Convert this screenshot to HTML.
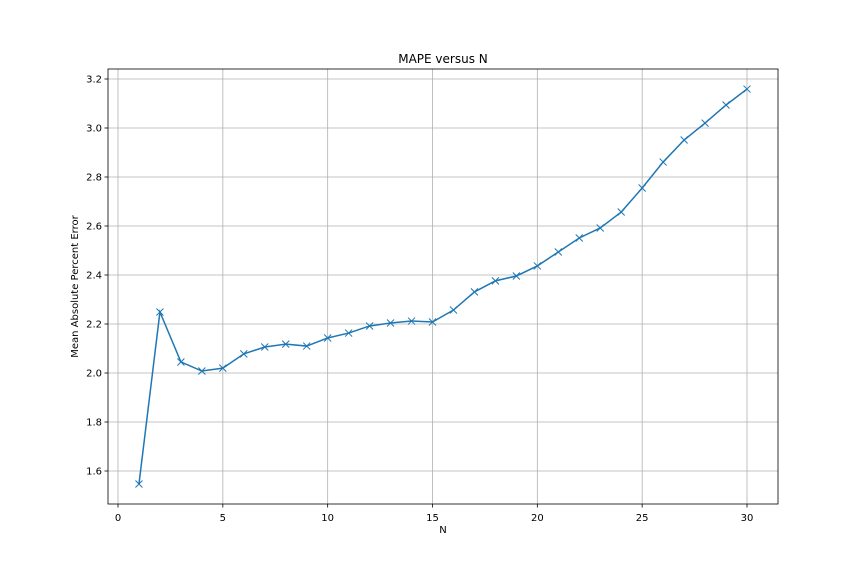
<!DOCTYPE html>
<html><head><meta charset="utf-8"><style>
body{margin:0;background:#fff;font-family:"Liberation Sans","DejaVu Sans",sans-serif;}
svg text{font-family:"DejaVu Sans","Liberation Sans",sans-serif;}
</style></head><body>
<svg id="chart" width="864" height="576">
<rect x="0" y="0" width="864" height="576" fill="#fff"/>
</svg>
<script>
const nValues=[1,2,3,4,5,6,7,8,9,10,11,12,13,14,15,16,17,18,19,20,21,22,23,24,25,26,27,28,29,30];
const mapeValues=[1.547,2.249,2.045,2.008,2.020,2.078,2.106,2.118,2.110,2.143,2.163,2.192,2.204,2.212,2.208,2.257,2.331,2.376,2.396,2.437,2.494,2.551,2.592,2.657,2.755,2.861,2.951,3.020,3.094,3.159];
const xTicks=[0,5,10,15,20,25,30];
const yTicks=[1.6,1.8,2.0,2.2,2.4,2.6,2.8,3.0,3.2];
const L=108,R=778,T=69,B=504;
const xs=v=>118+(v-0)*(747-118)/30;
const ys=v=>79+(3.2-v)*(471-79)/1.6;
const svg=document.getElementById('chart');
const NS='http://www.w3.org/2000/svg';
function mk(tag,attrs,parent){const e=document.createElementNS(NS,tag);for(const k in attrs)e.setAttribute(k,attrs[k]);(parent||svg).appendChild(e);return e;}
const grid=mk('g',{});


xTicks.forEach(t=>{const x=xs(t);
mk('line',{x1:x,x2:x,y1:T,y2:B,stroke:'#b0b0b0','stroke-width':0.8},grid);
mk('line',{x1:x,x2:x,y1:B,y2:B+3.5,stroke:'#000','stroke-width':0.8});
const tx=mk('text',{x:x,y:B+17,'font-size':10,'text-anchor':'middle'});tx.textContent=t;


});
yTicks.forEach(t=>{const y=ys(t);
mk('line',{x1:L,x2:R,y1:y,y2:y,stroke:'#b0b0b0','stroke-width':0.8},grid);
mk('line',{x1:L-3.5,x2:L,y1:y,y2:y,stroke:'#000','stroke-width':0.8});
const tx=mk('text',{x:L-6,y:y+3.5,'font-size':10,'text-anchor':'end'});tx.textContent=t.toFixed(1);


});
const pts=nValues.map((n,i)=>xs(n)+','+ys(mapeValues[i])).join(' ');
const line=mk('polyline',{points:pts,fill:'none',stroke:'#1f77b4','stroke-width':1.5});


nValues.forEach((n,i)=>{const x=xs(n),y=ys(mapeValues[i]),d=3.5;
const g=mk('g',{stroke:'#1f77b4','stroke-width':1});


mk('line',{x1:x-d,y1:y-d,x2:x+d,y2:y+d},g);mk('line',{x1:x-d,y1:y+d,x2:x+d,y2:y-d},g);});
const frame=mk('rect',{x:L,y:T,width:R-L,height:B-T,fill:'none',stroke:'#000','stroke-width':0.8});


const title=mk('text',{x:(L+R)/2,y:T-6,'font-size':12,'text-anchor':'middle'});title.textContent='MAPE versus N';


const xl=mk('text',{x:(L+R)/2,y:B+29,'font-size':10,'text-anchor':'middle'});xl.textContent='N';


const yl=mk('text',{x:0,y:0,'font-size':10,'text-anchor':'middle',transform:`translate(78,${(T+B)/2}) rotate(-90)`});yl.textContent='Mean Absolute Percent Error';


</script>
</body></html>
